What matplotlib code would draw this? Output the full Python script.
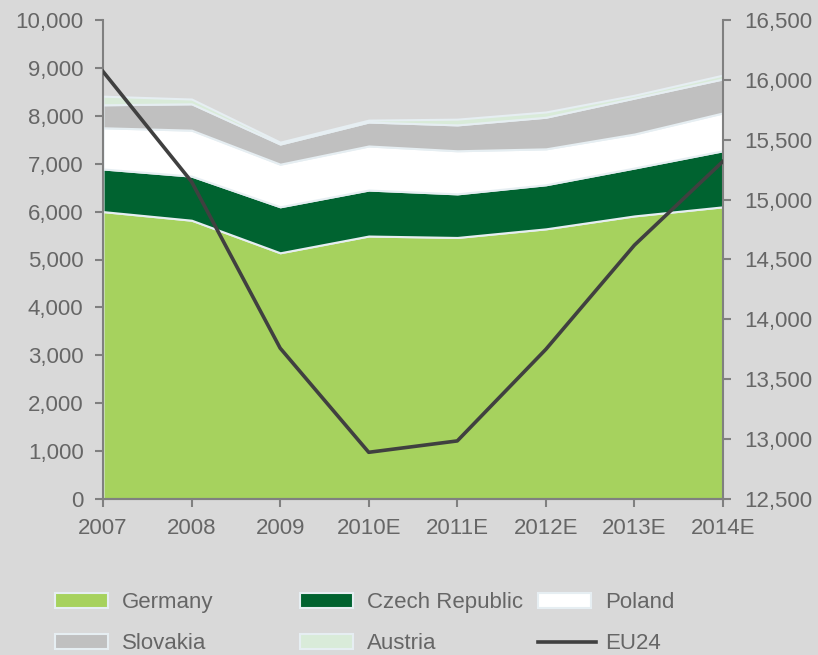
import matplotlib
matplotlib.use("Agg")
from matplotlib import pyplot as plt
from matplotlib.patches import Rectangle
from matplotlib.lines import Line2D
from matplotlib.ticker import FuncFormatter

plt.rcParams['font.family'] = ['Liberation Sans', 'DejaVu Sans']

years = ['2007', '2008', '2009', '2010E', '2011E', '2012E', '2013E', '2014E']

# stacked areas (left axis)
germany = [6000, 5820, 5140, 5490, 5460, 5640, 5910, 6100]
czech = [890, 920, 960, 960, 910, 920, 1000, 1170]
poland = [860, 960, 890, 920, 900, 750, 710, 790]
slovakia = [480, 550, 420, 500, 540, 660, 750, 710]
austria = [180, 100, 40, 40, 120, 110, 60, 80]

# EU24 line (right axis)
eu24 = [16070, 15150, 13760, 12890, 12985, 13750, 14620, 15320]

names = ['Germany', 'Czech Republic', 'Poland', 'Slovakia', 'Austria']
colors = ['#A6D25E', '#006330', '#FFFFFF', '#C0C0C0', '#D9EBD9']
bg = '#D9D9D9'
txt = '#666666'
edge = '#E6EEF2'
fs = 16

fig = plt.figure(figsize=(8.18, 6.55), dpi=100, facecolor=bg)
ax = fig.add_axes([103/818, 1-499/655, 620/818, 479/655])
ax.set_facecolor(bg)

x = list(range(len(years)))
ax.stackplot(x, germany, czech, poland, slovakia, austria,
             colors=colors, edgecolor=edge, linewidth=1.5)
ax.set_xlim(0, len(years)-1)
ax.set_ylim(0, 10000)
ax.set_yticks(range(0, 10001, 1000))
ax.yaxis.set_major_formatter(FuncFormatter(lambda v, p: f'{int(v):,}'))
ax.set_xticks(x)
ax.set_xticklabels(years)

ax2 = ax.twinx()
ax2.plot(x, eu24, color='#404040', linewidth=2.6, zorder=5)
ax2.set_ylim(12500, 16500)
ax2.set_yticks(range(12500, 16501, 500))
ax2.yaxis.set_major_formatter(FuncFormatter(lambda v, p: f'{int(v):,}'))

for a in (ax, ax2):
    a.spines['top'].set_visible(False)
    for s in ('left', 'right', 'bottom'):
        a.spines[s].set_color('#808080')
        a.spines[s].set_linewidth(1.5)
    a.tick_params(axis='both', colors='#808080', labelcolor=txt,
                  labelsize=fs, length=6, width=1.5, direction='out')
ax.tick_params(axis='x', pad=8)
ax.tick_params(axis='y', pad=8)
ax2.tick_params(axis='y', pad=9)
ax.spines['right'].set_visible(False)
ax2.spines['left'].set_visible(False)

# legend drawn by hand in pixel positions
W, H = 818, 655
entries = [(names[0], colors[0], 'patch'), (names[1], colors[1], 'patch'),
           (names[2], colors[2], 'patch'), (names[3], colors[3], 'patch'),
           (names[4], colors[4], 'patch'), ('EU24', '#404040', 'line')]
colx = [55, 300, 538]
rowy = [601, 642]
for i, (lab, col, kind) in enumerate(entries):
    px = colx[i % 3]
    py = rowy[i // 3]
    if kind == 'patch':
        fig.add_artist(Rectangle((px/W, 1-(py+7)/H), 53/W, 15/H,
                                 transform=fig.transFigure, facecolor=col,
                                 edgecolor=edge, linewidth=1.5))
    else:
        fig.add_artist(Line2D([px/W, (px+58)/W], [1-py/H, 1-py/H],
                              transform=fig.transFigure, color=col,
                              linewidth=2.6))
    fig.text((px+67)/W, 1-(py+7)/H, lab, color=txt, fontsize=fs,
             va='baseline', ha='left')

fig.savefig('out.png', dpi=100, facecolor=bg)
